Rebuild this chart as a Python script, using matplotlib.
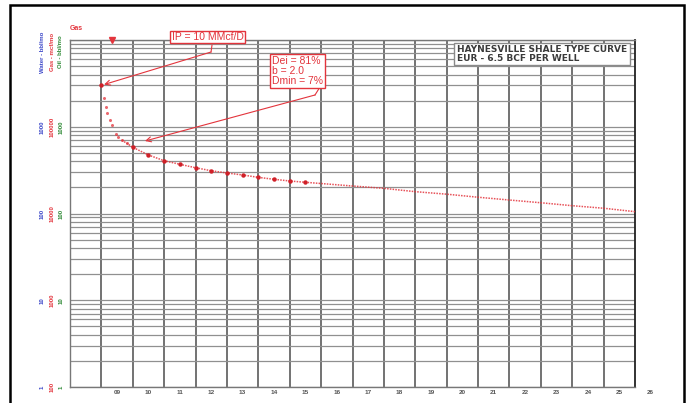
import numpy as np
import matplotlib
matplotlib.use("Agg")
import matplotlib.pyplot as plt
from matplotlib.patches import Rectangle
from matplotlib.ticker import LogLocator, NullFormatter
from matplotlib.transforms import blended_transform_factory

# Gas rate type curve, mcf per month, by decimal year
years = [2009.00, 2009.08, 2009.14, 2009.19, 2009.27, 2009.33, 2009.46, 2009.54,
         2009.65, 2009.81, 2010.0, 2010.5, 2011.0, 2011.5, 2012.0, 2012.5,
         2013.0, 2013.5, 2014.0, 2014.5, 2015.0, 2015.5, 2017.0, 2018.0,
         2019.0, 2020.0, 2021.0, 2022.0, 2023.0, 2024.0, 2025.0, 2026.0]
gas_rate = [300000, 216000, 170000, 143000, 120000, 105000, 82000, 77000,
            70000, 64400, 58000, 47200, 40600, 36900, 33700, 31100,
            29300, 27800, 26100, 24800, 23700, 22900, 20750, 19500,
            17850, 16700, 15400, 14300, 13300, 12300, 11500, 10500]
last_marked_year = 2015.5
trace_start_year = 2009.6

# Axis labelling
year_labels = ["09", "10", "11", "12", "13", "14", "15", "16", "17", "18",
               "19", "20", "21", "22", "23", "24", "25", "26"]
label_years = list(range(2009, 2027))
gas_ticks = [100, 1000, 10000, 100000]
water_labels = ["1", "10", "100", "1000"]
gas_labels = ["100", "1000", "10000", "100000"]
oil_labels = ["1", "10", "100", "1000"]
flag_year = 2009.33

RED = "#e3343c"
BLUE = "#3a46c8"
GREEN = "#2f8a36"
FONT = "Liberation Sans"

plt.rcParams["font.family"] = [FONT, "DejaVu Sans"]

fig = plt.figure(figsize=(6.88, 4.03), dpi=100)
W, H = 688, 403
ax = fig.add_axes([70 / W, 1 - 387 / H, 565 / W, 347 / H])

ax.set_yscale("log")
ax.set_ylim(100, 1e6)
ax.set_xlim(2008, 2026)
ax.yaxis.set_major_locator(LogLocator(base=10))
ax.yaxis.set_minor_locator(LogLocator(base=10, subs=range(2, 10), numticks=20))
ax.yaxis.set_minor_formatter(NullFormatter())
ax.set_xticks(range(2009, 2026))
ax.grid(axis="y", which="both", color="#909090", lw=0.9)
ax.grid(axis="x", which="major", color="#5a5a5a", lw=1.2)
ax.tick_params(which="both", length=0, labelleft=False, labelbottom=False)
for side in ("left", "top", "bottom"):
    ax.spines[side].set_color("#777777")
    ax.spines[side].set_linewidth(1.0)
ax.spines["right"].set_color("#222222")
ax.spines["right"].set_linewidth(1.3)

# Type curve: dotted trace plus point markers for the early history
yrs = np.array(years)
rate = np.array(gas_rate)
trace = yrs >= trace_start_year
ax.plot(yrs[trace], rate[trace], ls=(0, (1, 0.8)), color=RED, lw=1.1,
        alpha=0.85, zorder=3)
marked = yrs <= last_marked_year
half = (yrs * 2) % 1
big = marked & (np.isclose(half, 0) | np.isclose(half, 1))
small = marked & ~big
ax.plot(yrs[small], rate[small], "o", ms=2.2, color=RED, alpha=0.75, mec="none", zorder=4)
ax.plot(yrs[big], rate[big], "o", ms=3.2, color="#d02028", mec="none", zorder=4)

# Start flag above the plot
ax.plot([flag_year], [1.0], marker="v", ms=4.5, color=RED,
        transform=blended_transform_factory(ax.transData, ax.transAxes),
        clip_on=False, zorder=5)
ax.text(0.0, 1.032, "Gas", transform=ax.transAxes, color=RED, fontsize=5,
        fontweight="bold", ha="left", va="center")

# Year labels centred in each year column
xt = blended_transform_factory(ax.transData, fig.transFigure)
for yr, lab in zip(label_years, year_labels):
    ax.text(yr + 0.5, 1 - 392 / H, lab, transform=xt, fontsize=4.6,
            fontweight="bold", color="#555555", ha="center", va="center",
            clip_on=False)

# Three rotated value scales on the left
yt = blended_transform_factory(fig.transFigure, ax.transData)
for col_x, labels, color in ((42, water_labels, BLUE), (52, gas_labels, RED),
                             (61, oil_labels, GREEN)):
    for val, lab in zip(gas_ticks, labels):
        fig.text(col_x / W, val, lab, transform=yt, rotation=90, fontsize=4.3,
                 fontweight="bold", color=color, ha="center", va="center")
for col_x, title, color in ((42, "Water - bbl/mo", BLUE), (52, "Gas - mcf/mo", RED),
                            (61, "Oil - bbl/mo", GREEN)):
    fig.text(col_x / W, 1 - 52 / H, title, rotation=90, fontsize=4.3,
             fontweight="bold", color=color, ha="center", va="center")

# Title box
ax.text(0.6850, 0.9600, "HAYNESVILLE SHALE TYPE CURVE\nEUR - 6.5 BCF PER WELL",
        transform=ax.transAxes, family="DejaVu Sans", fontweight="bold",
        fontsize=6.5, linespacing=0.9, color="#3a3a3a", ha="left", va="center",
        bbox=dict(boxstyle="square,pad=0.3", fc="white", ec="#8a8a8a", lw=1.0),
        zorder=6)

# Initial-rate callout
ax.text(0.2434, 1.0086, "IP = 10 MMcf/D", transform=ax.transAxes, fontsize=7.5,
        color=RED, ha="center", va="center", clip_on=False,
        bbox=dict(boxstyle="square,pad=0.12", fc="white", ec=RED, lw=1.0), zorder=6)
ax.plot([0.2513, 0.2496], [0.985, 0.9654], transform=ax.transAxes, color=RED,
        lw=0.8, clip_on=False, zorder=5)
ax.annotate("", xy=(years[0], gas_rate[0]), xycoords="data",
            xytext=(0.2496, 0.9654), textcoords="axes fraction",
            arrowprops=dict(arrowstyle="->", color=RED, lw=0.8, shrinkA=0,
                            shrinkB=2, mutation_scale=9), zorder=5)

# Decline-parameter callout
ax.text(0.3575, 0.9107, "Dei = 81%\nb = 2.0\nDmin = 7%", transform=ax.transAxes,
        fontsize=7.5, linespacing=1.0, color=RED, ha="left", va="center",
        bbox=dict(boxstyle="square,pad=0.15", fc="white", ec=RED, lw=1.0), zorder=6)
ax.plot([0.4425, 0.4336], [0.8646, 0.8415], transform=ax.transAxes, color=RED,
        lw=0.8, zorder=5)
ax.annotate("", xy=(0.1327, 0.7089), xycoords="axes fraction",
            xytext=(0.4336, 0.8415), textcoords="axes fraction",
            arrowprops=dict(arrowstyle="->", color=RED, lw=0.8, shrinkA=0,
                            shrinkB=0, mutation_scale=9), zorder=5)

# Page frame
fig.patches.append(Rectangle((10 / W, -0.02), 674 / W, 1.02 - 5 / H,
                             transform=fig.transFigure, fill=False,
                             ec="black", lw=1.8))

fig.savefig("out.png", dpi=100)
